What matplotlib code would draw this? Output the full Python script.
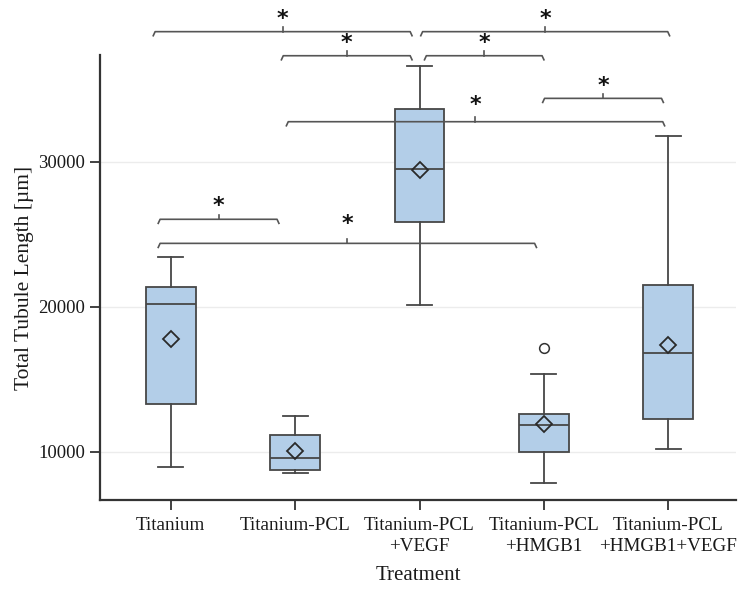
import matplotlib
matplotlib.use('Agg')
import matplotlib.pyplot as plt

plt.rcParams['font.family'] = ['Liberation Serif', 'DejaVu Serif']

groups = ['Titanium', 'Titanium-PCL', 'Titanium-PCL\n+VEGF', 'Titanium-PCL\n+HMGB1',
          'Titanium-PCL\n+HMGB1+VEGF']

# box statistics
whislo = [8970, 8530, 20100, 7840, 10210]
q1 = [13290, 8740, 25860, 9960, 12290]
med = [20170, 9590, 29500, 11840, 16830]
q3 = [21380, 11170, 33630, 12600, 21500]
whishi = [23450, 12480, 36620, 15340, 31750]
means = [17750, 10070, 29450, 11880, 17360]
fliers = [[], [], [], [17130], []]

# significance brackets: (start, end, height, star height)
brackets = [
    (0.86, 2.94, 38970, 39850),
    (3.01, 5.01, 38970, 39850),
    (1.89, 2.94, 37310, 38200),
    (3.04, 4.00, 37310, 38200),
    (3.99, 4.96, 34370, 35200),
    (1.93, 4.97, 32760, 33900),
    (0.90, 1.87, 26030, 26950),
    (0.90, 3.94, 24370, 25700),
]

line_col = '#474747'
fill_col = '#b3cee8'

stats = []
for i in range(len(groups)):
    stats.append(dict(whislo=whislo[i], q1=q1[i], med=med[i], q3=q3[i],
                      whishi=whishi[i], mean=means[i], fliers=fliers[i]))

fig = plt.figure(figsize=(7.38, 5.94), dpi=100)
ax = fig.add_axes([0.1355, 0.1582, 0.862, 0.7492])

ax.bxp(stats, positions=range(1, 6), widths=0.4, patch_artist=True, showmeans=True,
       boxprops=dict(facecolor=fill_col, edgecolor=line_col, linewidth=1.3),
       medianprops=dict(color=line_col, linewidth=1.3),
       whiskerprops=dict(color=line_col, linewidth=1.3),
       capprops=dict(color=line_col, linewidth=1.3),
       meanprops=dict(marker='D', markerfacecolor='none', markeredgecolor='#2a2a2a',
                      markersize=8, markeredgewidth=1.3),
       flierprops=dict(marker='o', markerfacecolor='none', markeredgecolor='#333333',
                       markersize=7, markeredgewidth=1.1))

ax.set_xlim(0.432, 5.545)
ax.set_ylim(6670, 37360)
ax.set_yticks([10000, 20000, 30000])
ax.yaxis.grid(True, color='#ececec', linewidth=1)
ax.set_axisbelow(True)

for s in ['top', 'right']:
    ax.spines[s].set_visible(False)
for s in ['left', 'bottom']:
    ax.spines[s].set_color('#333333')
    ax.spines[s].set_linewidth(1.6)
ax.tick_params(axis='both', colors='#333333', width=1.3, length=7,
               labelcolor='#1a1a1a')
ax.tick_params(axis='y', labelsize=13.5)
ax.tick_params(axis='x', pad=5, labelsize=13.75)
ax.set_xticklabels(groups, linespacing=1.3)

ax.set_xlabel('Treatment', fontsize=15, color='#1a1a1a', labelpad=8)
ax.set_ylabel('Total Tubule Length [µm]', fontsize=15.5, color='#1a1a1a', labelpad=3)

# brackets with hooked ends and a centre tick
hook = 280
tick = 320
for x0, x1, h, sh in brackets:
    xm = (x0 + x1) / 2
    ax.plot([x0, x0 + 0.015, x1 - 0.015, x1], [h - hook, h, h, h - hook],
            color='#555555', linewidth=1.2, clip_on=False, zorder=5)
    ax.plot([xm, xm], [h, h + tick], color='#555555', linewidth=1.2, clip_on=False, zorder=5)
    ax.text(xm, sh, '*', ha='center', va='center', fontsize=16, fontweight='bold',
            family='DejaVu Sans', color='#111111', clip_on=False)

fig.savefig('out.png', dpi=100)
